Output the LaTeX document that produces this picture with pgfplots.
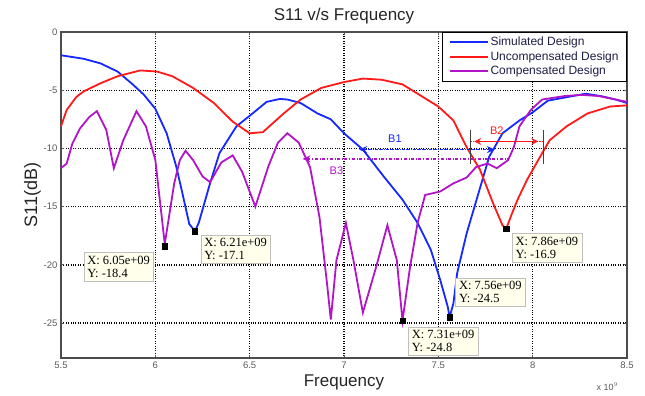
\documentclass[border=0pt]{standalone}
\usepackage{fontspec}
\setmainfont{Liberation Sans}
\newfontfamily\tipfont{Liberation Serif}
\usepackage{pgfplots}
\pgfplotsset{compat=1.18}
\usetikzlibrary{arrows.meta}
\definecolor{cblue}{RGB}{20,40,255}
\definecolor{cred}{RGB}{255,25,25}
\definecolor{cmag}{RGB}{178,20,200}
\definecolor{tipbg}{RGB}{255,255,236}
\definecolor{legtext}{RGB}{30,30,70}
\begin{document}
\begin{tikzpicture}
\begin{axis}[
  width=566pt, height=326pt, scale only axis,
  xmin=5.5, xmax=8.5, ymin=-28, ymax=0,
  xtick={5.5,6,6.5,7,7.5,8,8.5},
  xticklabels={5.5,6,6.5,7,7.5,8,8.5},
  ytick={-25,-20,-15,-10,-5,0},
  /pgf/number format/assume math mode=true,
  grid=major,
  grid style={dotted, black, line width=1.4pt},
  axis line style={black!70, line width=1.6pt},
  tick align=inside, major tick length=3pt,
  tick style={black!65, line width=0.8pt},
  tick label style={font=\fontsize{9.5}{10}\selectfont, text=black!65},
  title={S11 v/s Frequency},
  title style={font=\fontsize{17}{20}\selectfont, text=black!85, yshift=-2pt},
  xlabel={Frequency},
  xlabel style={font=\fontsize{17}{20}\selectfont, text=black!85, yshift=0pt},
  ylabel={S11(dB)},
  ylabel style={font=\fontsize{18}{20}\selectfont, text=black!85, yshift=-4pt},
  legend style={at={(1,1)}, anchor=north east, draw=black, thick,
    font=\fontsize{12}{13}\selectfont, text=legtext, inner xsep=6pt, inner ysep=2.5pt,
    row sep=0.5pt},
  legend cell align=left,
  legend image code/.code={\draw[#1, solid, line width=1.8pt] (0pt,0pt) -- (38pt,0pt);},
  clip=false,
]
\addplot[cblue, line width=1.8pt] coordinates {
(5.50,-2.0) (5.62,-2.3) (5.71,-2.7) (5.80,-3.4) (5.88,-4.5) (5.94,-5.4)
(6.00,-6.6) (6.06,-8.7) (6.11,-11.5) (6.14,-13.6) (6.18,-16.5) (6.21,-17.1)
(6.23,-16.4) (6.29,-13.0) (6.34,-10.4) (6.43,-8.1) (6.50,-7.2) (6.59,-6.0)
(6.66,-5.75) (6.70,-5.8) (6.77,-6.1) (6.86,-7.0) (6.93,-7.5) (7.00,-8.7)
(7.10,-10.1) (7.21,-12.4) (7.31,-14.4) (7.39,-16.4) (7.46,-18.7) (7.51,-21.3)
(7.55,-23.6) (7.56,-24.5) (7.58,-23.3) (7.60,-20.7) (7.65,-17.3) (7.71,-14.0)
(7.77,-10.7) (7.84,-8.7) (7.93,-7.6) (8.00,-6.9) (8.08,-5.9) (8.18,-5.6)
(8.28,-5.3) (8.36,-5.5) (8.44,-5.8) (8.50,-6.1)
};
\addlegendentry{Simulated Design}
\addplot[cred, line width=1.8pt] coordinates {
(5.50,-8.1) (5.53,-6.7) (5.58,-5.6) (5.62,-5.1) (5.71,-4.4) (5.80,-3.8)
(5.92,-3.3) (6.01,-3.4) (6.09,-3.8) (6.20,-4.8) (6.31,-6.1) (6.41,-7.7)
(6.50,-8.7) (6.57,-8.6) (6.68,-7.0) (6.77,-5.8) (6.88,-4.8) (7.00,-4.3)
(7.10,-4.0) (7.20,-4.1) (7.31,-4.5) (7.41,-5.5) (7.50,-6.4) (7.58,-7.6)
(7.65,-9.9) (7.72,-11.8) (7.79,-14.7) (7.84,-16.6) (7.86,-16.9) (7.89,-15.6)
(7.92,-14.4) (7.97,-12.7) (8.04,-10.7) (8.09,-9.3) (8.18,-8.1) (8.29,-7.0)
(8.41,-6.4) (8.50,-6.3)
};
\addlegendentry{Uncompensated Design}
\addplot[cmag, line width=1.8pt] coordinates {
(5.50,-11.7) (5.53,-11.3) (5.56,-9.6) (5.60,-8.3) (5.65,-7.3) (5.69,-6.8)
(5.74,-8.4) (5.78,-11.7) (5.83,-9.3) (5.90,-6.8) (5.95,-8.1) (6.00,-11.0)
(6.05,-18.2) (6.10,-13.0) (6.13,-11.0) (6.16,-10.2) (6.20,-11.0) (6.25,-12.4)
(6.29,-12.9) (6.35,-11.2) (6.41,-10.6) (6.46,-12.0) (6.53,-15.0) (6.60,-11.5)
(6.65,-9.5) (6.70,-8.7) (6.76,-9.5) (6.82,-11.6) (6.87,-15.9) (6.91,-21.6)
(6.93,-24.7) (6.96,-19.6) (7.01,-16.4) (7.05,-19.6) (7.10,-24.1) (7.17,-20.2)
(7.23,-16.6) (7.28,-19.6) (7.31,-24.8) (7.35,-20.2) (7.39,-16.4) (7.43,-14.0)
(7.51,-13.7) (7.58,-13.0) (7.65,-12.5) (7.70,-11.6) (7.76,-11.3) (7.81,-11.7)
(7.87,-11.0) (7.90,-9.9) (7.93,-8.1) (7.99,-6.7) (8.05,-5.8) (8.17,-5.5)
(8.26,-5.4) (8.35,-5.5) (8.44,-5.8) (8.50,-6.0)
};
\addlegendentry{Compensated Design}
% data tip markers
\addplot[only marks, mark=square*, mark size=2.7pt, black, forget plot] coordinates {
(6.05,-18.4) (6.21,-17.1) (7.31,-24.8) (7.56,-24.5) (7.86,-16.9)
};
% bandwidth markers
\draw[cblue, densely dashdotted, line width=1.3pt, {Stealth[length=8pt,width=7pt]}-{Stealth[length=8pt,width=7pt]}] (axis cs:7.08,-10.1) -- (axis cs:7.80,-10.1);
\node[text=cblue, font=\fontsize{11}{12}\selectfont] at (axis cs:7.27,-9.2) {B1};
\draw[cmag, dashdotted, line width=1.3pt, {Stealth[length=8pt,width=7pt]}-] (axis cs:6.78,-10.9) -- (axis cs:7.87,-10.9);
\node[text=cmag, font=\fontsize{11}{12}\selectfont] at (axis cs:6.96,-11.9) {B3};
\draw[cred, densely dotted, line width=1.3pt] (axis cs:7.67,-9.4) -- (axis cs:8.06,-9.4);
\draw[cred, line width=1pt, {Stealth[length=7pt,width=7pt,open]}-{Stealth[length=7pt,width=7pt,open]}] (axis cs:7.69,-9.4) -- (axis cs:8.03,-9.4);
\node[text=cred, font=\fontsize{11}{12}\selectfont] at (axis cs:7.81,-8.5) {B2};
\draw[black!75, line width=1pt] (axis cs:7.67,-8.4) -- (axis cs:7.67,-11.3);
\draw[black!75, line width=1pt] (axis cs:8.06,-8.4) -- (axis cs:8.06,-11.3);
% data tip boxes
\tikzset{tip/.style={draw=black!25, fill=tipbg, anchor=north west, align=left,
  font=\tipfont\fontsize{12.5}{13}\selectfont, inner sep=3.5pt}}
\node[tip] at (axis cs:5.62,-18.9) {X: 6.05e+09\\Y: -18.4};
\node[tip] at (axis cs:6.24,-17.4) {X: 6.21e+09\\Y: -17.1};
\node[tip] at (axis cs:7.34,-25.3) {X: 7.31e+09\\Y: -24.8};
\node[tip] at (axis cs:7.59,-21.1) {X: 7.56e+09\\Y: -24.5};
\node[tip] at (axis cs:7.89,-17.3) {X: 7.86e+09\\Y: -16.9};
\node[font=\fontsize{9}{10}\selectfont, text=black!65] at (rel axis cs:0.965,-0.088) {x 10$^{9}$};
\end{axis}
\pgfresetboundingbox
\path (current axis.south west) ++(-61pt,-38pt) rectangle ++(645pt,396pt);
\end{tikzpicture}
\end{document}
